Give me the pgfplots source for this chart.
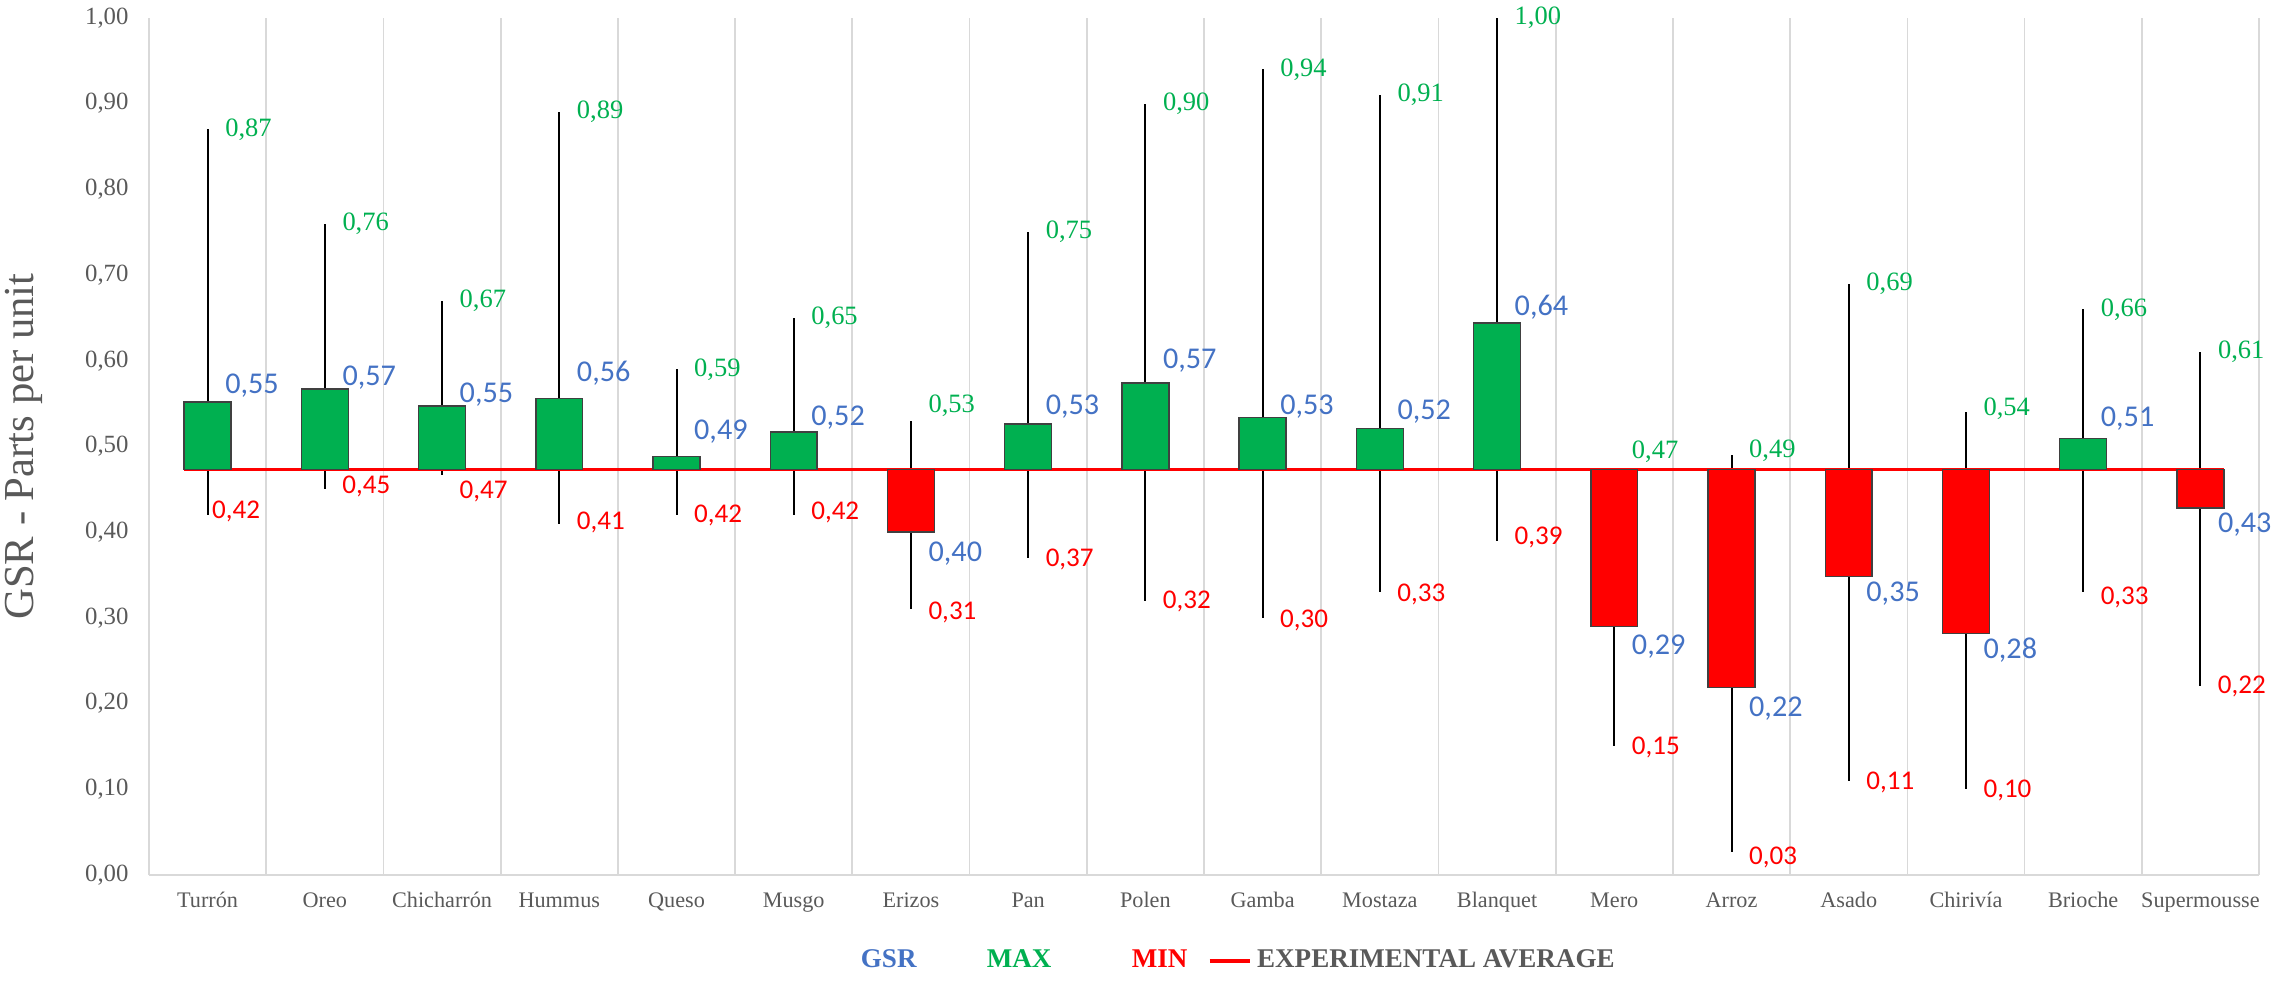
\documentclass[border=0pt]{standalone}
\usepackage{pgfplots}
\pgfplotsset{compat=1.18}
\usepackage{pgfplotstable}
\usepackage{fontspec}
\setmainfont{Liberation Serif}
\newfontfamily\lblserif{Liberation Serif}
\newfontfamily\lblsans{Carlito}

\definecolor{xlgreen}{HTML}{00B050}
\definecolor{xlred}{HTML}{FF0000}
\definecolor{xlblue}{HTML}{4472C4}
\definecolor{barline}{HTML}{404040}
\definecolor{gridgray}{HTML}{D9D9D9}
\definecolor{tickgray}{HTML}{595959}

\newcommand\LblMaxFont{\lblserif\fontsize{9.3}{11}\selectfont}
\newcommand\LblGsrFont{\lblsans\fontsize{10.6}{12}\selectfont}
\newcommand\LblMinFont{\lblsans\fontsize{9.5}{11}\selectfont}

% x: category index; gsr: GSR value; max/min: whisker ends; avg: experimental average
% maxlab/minlab/gsrlab: vertical position of the data labels; minx: x position of the MIN label
\pgfplotstableread{
x  gsr   max   min   avg   maxlab minlab minx   gsrlab
0  0.552 0.87  0.42  0.473 0.870  0.424  0.034  0.571
1  0.567 0.76  0.45  0.473 0.760  0.453  1.145  0.580
2  0.547 0.67  0.467 0.473 0.670  0.448  2.145  0.561
3  0.556 0.89  0.41  0.473 0.890  0.411  3.145  0.586
4  0.488 0.59  0.42  0.473 0.590  0.419  4.145  0.517
5  0.517 0.65  0.42  0.473 0.650  0.423  5.145  0.534
6  0.400 0.53  0.31  0.473 0.547  0.306  6.145  0.375
7  0.526 0.75  0.37  0.473 0.750  0.368  7.145  0.546
8  0.574 0.90  0.32  0.473 0.900  0.319  8.145  0.600
9  0.534 0.94  0.30  0.473 0.940  0.297  9.145  0.546
10 0.521 0.91  0.33  0.473 0.910  0.327  10.145 0.541
11 0.644 1.00  0.39  0.473 1.000  0.394  11.145 0.663
12 0.290 0.473 0.15  0.473 0.494  0.149  12.145 0.266
13 0.219 0.49  0.027 0.473 0.495  0.021  13.145 0.194
14 0.348 0.69  0.11  0.473 0.690  0.108  14.145 0.328
15 0.282 0.54  0.10  0.473 0.544  0.099  15.145 0.262
16 0.509 0.66  0.33  0.473 0.660  0.324  16.145 0.533
17 0.428 0.61  0.22  0.473 0.610  0.220  17.145 0.409
}\gsrdata

\pgfplotsset{
  common/.style={
    at={(0,0)}, anchor=south west,
    scale only axis, width=741pt, height=301pt,
    xmin=-0.5, xmax=17.5, ymin=0, ymax=1,
    clip=false,
    /pgf/number format/fixed,
    /pgf/number format/fixed zerofill,
    /pgf/number format/precision=2,
    /pgf/number format/use comma,
    /pgf/number format/assume math mode=true,
  }
}

\begin{document}
\begin{tikzpicture}
\useasboundingbox (-52.33pt,-40.4pt) rectangle (747.67pt,307.3pt);
% ---- back layer: grid, ticks, whiskers, average line, legend
\begin{axis}[
  common,
  axis line style={draw=none},
  major tick length=0pt, minor tick length=0pt,
  xtick={0,...,17},
  xticklabels={Turrón,Oreo,Chicharrón,Hummus,Queso,Musgo,Erizos,Pan,Polen,Gamba,Mostaza,Blanquet,Mero,Arroz,Asado,Chirivía,Brioche,Supermousse},
  minor xtick={-0.5,0.5,...,17.5},
  xminorgrids,
  minor grid style={gridgray, line width=0.6pt},
  extra y ticks={0},
  extra y tick labels={},
  extra y tick style={grid=major, major grid style={gridgray, line width=0.6pt}},
  ytick={0,0.1,0.2,0.3,0.4,0.5,0.6,0.7,0.8,0.9,1},
  yticklabel style={anchor=east, inner sep=0pt, xshift=-7pt, text=tickgray, font=\fontsize{8.7}{10}\selectfont},
  xticklabel style={anchor=base, inner sep=0pt, yshift=-11.4pt, text=tickgray, font=\fontsize{7.8}{9}\selectfont},
  ylabel={GSR - Parts per unit},
  ylabel style={at={(axis description cs:-0.0549,0.5)}, rotate=0, anchor=base, text=tickgray, font=\fontsize{15}{17}\selectfont},
  legend style={at={(axis description cs:0.516,-0.1003)}, anchor=center, draw=none, fill=none,
    font=\bfseries\fontsize{9.5}{11}\selectfont,
    /tikz/column 2/.style={column sep=20.7pt},
    /tikz/column 4/.style={column sep=24.2pt},
    /tikz/column 6/.style={column sep=5.2pt}},
  legend columns=4,
]
\addlegendimage{empty legend}
\addlegendentry{\textcolor{xlblue}{GSR}}
\addlegendimage{empty legend}
\addlegendentry{\textcolor{xlgreen}{MAX}}
\addlegendimage{empty legend}
\addlegendentry{\textcolor{xlred}{MIN}}
% min-max whiskers
\addplot[draw=none, mark=none, forget plot,
  error bars/.cd, y dir=both, y explicit, error mark=none,
  error bar style={draw=black, line width=0.7pt}]
  table[x=x, y=gsr, y error plus expr=\thisrow{max}-\thisrow{gsr},
        y error minus expr=\thisrow{gsr}-\thisrow{min}] {\gsrdata};
% experimental average
\addplot[xlred, line width=1.3pt, legend image code/.code={\draw[xlred, line width=1.3pt] (0pt,0pt) -- (14pt,0pt);}]
  coordinates {(-0.2,0.473) (17.2,0.473)};
\addlegendentry{\textcolor{tickgray}{EXPERIMENTAL AVERAGE}}
\end{axis}
% ---- front layer: floating bars from the average to GSR
\begin{axis}[
  common,
  hide axis,
  ybar stacked, bar width=16.47pt,
]
\addplot[draw=none, fill=none] table[x=x, y expr={min(\thisrow{gsr},\thisrow{avg})}] {\gsrdata};
\addplot[fill=xlgreen, draw=barline, line width=0.5pt] table[x=x, y expr={max(\thisrow{gsr}-\thisrow{avg},0)}] {\gsrdata};
\addplot[fill=xlred, draw=barline, line width=0.5pt] table[x=x, y expr={max(\thisrow{avg}-\thisrow{gsr},0)}] {\gsrdata};
\end{axis}
% ---- data labels (MAX, serif)
\begin{axis}[common, hide axis]
\addplot[draw=none, mark=none, point meta=explicit,
  nodes near coords={\LblMaxFont\pgfmathprintnumber{\pgfplotspointmeta}},
  every node near coord/.style={anchor=west, inner sep=0pt, xshift=6pt, text=xlgreen, font=\LblMaxFont}]
  table[x=x, y=maxlab, meta=max] {\gsrdata};
\end{axis}
% ---- data labels (MIN)
\begin{axis}[common, hide axis]
\addplot[draw=none, mark=none, point meta=explicit,
  nodes near coords={\LblMinFont\pgfmathprintnumber{\pgfplotspointmeta}},
  every node near coord/.style={anchor=west, inner sep=0pt, text=xlred, font=\LblMinFont}]
  table[x=minx, y=minlab, meta=min] {\gsrdata};
\end{axis}
% ---- data labels (GSR)
\begin{axis}[common, hide axis]
\addplot[draw=none, mark=none, point meta=explicit,
  nodes near coords={\LblGsrFont\pgfmathprintnumber{\pgfplotspointmeta}},
  every node near coord/.style={anchor=west, inner sep=0pt, xshift=6pt, text=xlblue, font=\LblGsrFont}]
  table[x=x, y=gsrlab, meta=gsr] {\gsrdata};
\end{axis}
\end{tikzpicture}
\end{document}
